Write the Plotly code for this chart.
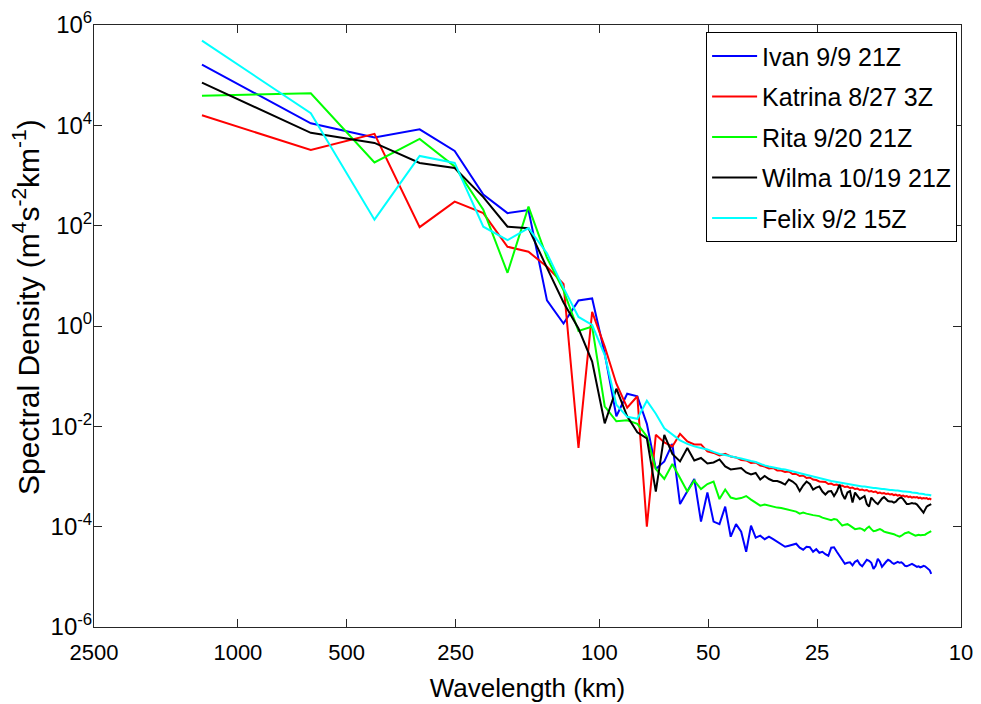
import numpy as np
import plotly.graph_objects as go

# Spectral grid: harmonics of the analysis domain (wavelength in km)
WAVENUMBER = list(range(1, 105))
WAVELENGTH_KM = [1257.0 / k for k in WAVENUMBER]

# log10 of spectral density (m^4 s^-2 km^-1) for each storm
IVAN_LOG10 = [
    5.21, 4.04, 3.76, 3.92, 3.49, 2.62, 2.25, 2.31, 0.51, 0.05,
    0.51, 0.55, -0.55, -1.80, -1.35, -1.40, -1.95, -2.85, -2.70, -2.35,
    -3.55, -3.30, -3.05, -3.90, -3.32, -3.90, -3.95, -3.60, -4.20, -3.95,
    -4.10, -4.50, -3.98, -4.22, -4.18, -4.25, -4.20, -4.25, -4.30, -4.36,
    -4.40, -4.38, -4.36, -4.34, -4.42, -4.46, -4.40, -4.41, -4.50, -4.45,
    -4.52, -4.50, -4.55, -4.58, -4.42, -4.41, -4.50, -4.58, -4.68, -4.74,
    -4.72, -4.71, -4.77, -4.70, -4.67, -4.75, -4.79, -4.72, -4.66, -4.68,
    -4.72, -4.84, -4.78, -4.64, -4.70, -4.80, -4.76, -4.70, -4.66, -4.68,
    -4.72, -4.74, -4.72, -4.70, -4.72, -4.71, -4.74, -4.78, -4.79, -4.77,
    -4.75, -4.74, -4.76, -4.78, -4.80, -4.79, -4.81, -4.80, -4.78, -4.79,
    -4.82, -4.85, -4.87, -4.94,
]
KATRINA_LOG10 = [
    4.20, 3.51, 3.83, 1.97, 2.48, 2.25, 1.58, 1.48, 1.18, 0.84,
    -2.43, 0.28, -0.41, -1.15, -1.63, -1.40, -4.00, -2.17, -2.32, -2.40,
    -2.15, -2.30, -2.36, -2.36, -2.50, -2.53, -2.58, -2.55, -2.60, -2.62,
    -2.67, -2.68, -2.73, -2.72, -2.78, -2.80, -2.84, -2.83, -2.88, -2.88,
    -2.91, -2.90, -2.95, -2.95, -2.99, -2.98, -3.03, -3.02, -3.06, -3.07,
    -3.10, -3.11, -3.11, -3.15, -3.14, -3.17, -3.16, -3.19, -3.18, -3.21,
    -3.20, -3.23, -3.22, -3.25, -3.24, -3.27, -3.26, -3.28, -3.27, -3.30,
    -3.29, -3.31, -3.30, -3.33, -3.32, -3.34, -3.33, -3.35, -3.34, -3.36,
    -3.35, -3.37, -3.36, -3.38, -3.37, -3.39, -3.38, -3.40, -3.39, -3.41,
    -3.40, -3.42, -3.41, -3.42, -3.41, -3.43, -3.42, -3.44, -3.43, -3.44,
    -3.43, -3.45, -3.44, -3.46,
]
RITA_LOG10 = [
    4.59, 4.64, 3.26, 3.73, 3.18, 2.32, 1.06, 2.38, 1.36, 0.71,
    -0.10, -0.01, -1.60, -1.90, -1.88, -1.95, -2.20, -2.85, -3.05, -2.75,
    -3.03, -3.30, -3.08, -3.25, -3.15, -3.10, -3.45, -3.26, -3.42, -3.45,
    -3.43, -3.39, -3.46, -3.52, -3.58, -3.56, -3.58, -3.61, -3.62, -3.63,
    -3.65, -3.66, -3.68, -3.70, -3.74, -3.72, -3.74, -3.76, -3.77, -3.78,
    -3.79, -3.82, -3.84, -3.86, -3.87, -3.85, -3.86, -3.92, -3.98, -3.96,
    -3.95, -3.98, -4.02, -4.05, -4.04, -4.03, -4.05, -4.08, -4.03, -4.00,
    -4.05, -4.09, -4.08, -4.06, -4.05, -4.07, -4.10, -4.11, -4.12, -4.13,
    -4.13, -4.15, -4.17, -4.19, -4.20, -4.18, -4.15, -4.13, -4.12, -4.11,
    -4.13, -4.15, -4.17, -4.18, -4.17, -4.16, -4.17, -4.17, -4.16, -4.16,
    -4.14, -4.12, -4.11, -4.09,
]
WILMA_LOG10 = [
    4.85, 3.85, 3.65, 3.25, 3.15, 2.57, 1.98, 1.95, 1.16, 0.47,
    -0.05, -0.71, -1.94, -1.25, -1.80, -2.12, -2.24, -3.30, -2.17, -2.55,
    -2.70, -2.43, -2.68, -2.63, -2.74, -2.72, -2.66, -2.80, -2.86, -2.84,
    -2.83, -2.92, -2.96, -2.93, -3.06, -2.99, -3.05, -3.09, -3.09, -3.12,
    -3.16, -3.06, -3.10, -3.16, -3.29, -3.18, -3.10, -3.15, -3.26, -3.22,
    -3.20, -3.30, -3.36, -3.30, -3.29, -3.39, -3.30, -3.16, -3.35, -3.45,
    -3.32, -3.29, -3.52, -3.32, -3.38, -3.45, -3.42, -3.39, -3.55, -3.60,
    -3.42, -3.48, -3.52, -3.55, -3.48, -3.44, -3.41, -3.45, -3.49, -3.50,
    -3.50, -3.52, -3.50, -3.46, -3.43, -3.42, -3.45, -3.50, -3.55, -3.55,
    -3.54, -3.53, -3.54, -3.54, -3.56, -3.60, -3.62, -3.68, -3.72, -3.66,
    -3.60, -3.58, -3.56, -3.55,
]
FELIX_LOG10 = [
    5.69, 4.24, 2.12, 3.39, 3.25, 1.98, 1.71, 1.95, 1.45, 0.76,
    0.18, 0.02, -0.58, -1.57, -1.81, -1.85, -1.49, -1.75, -2.04, -2.16,
    -2.28, -2.35, -2.40, -2.43, -2.46, -2.51, -2.55, -2.57, -2.60, -2.62,
    -2.64, -2.67, -2.69, -2.71, -2.75, -2.78, -2.80, -2.82, -2.84, -2.85,
    -2.86, -2.88, -2.90, -2.92, -2.93, -2.95, -2.96, -2.98, -3.00, -3.02,
    -3.04, -3.05, -3.07, -3.08, -3.09, -3.10, -3.11, -3.13, -3.14, -3.15,
    -3.15, -3.16, -3.17, -3.18, -3.18, -3.19, -3.20, -3.20, -3.21, -3.22,
    -3.22, -3.23, -3.23, -3.24, -3.24, -3.25, -3.25, -3.26, -3.26, -3.27,
    -3.27, -3.28, -3.28, -3.28, -3.29, -3.29, -3.30, -3.30, -3.30, -3.31,
    -3.31, -3.32, -3.32, -3.33, -3.33, -3.34, -3.34, -3.35, -3.35, -3.36,
    -3.36, -3.37, -3.37, -3.38,
]

SERIES_NAMES = ["Ivan 9/9 21Z", "Katrina 8/27 3Z", "Rita 9/20 21Z",
                "Wilma 10/19 21Z", "Felix 9/2 15Z"]
SERIES_LOG10 = [IVAN_LOG10, KATRINA_LOG10, RITA_LOG10, WILMA_LOG10, FELIX_LOG10]
SERIES_COLORS = ["#0000ff", "#ff0000", "#00ff00", "#000000", "#00ffff"]

X_TICKS = [2500, 1000, 500, 250, 100, 50, 25, 10]
Y_TICK_EXPONENTS = [-6, -4, -2, 0, 2, 4, 6]

X_TITLE = "Wavelength (km)"
Y_TITLE = "Spectral Density (m<sup>4</sup>s<sup>-2</sup>km<sup>-1</sup>)"

FONT = "Liberation Sans, Arial, Helvetica, sans-serif"

fig = go.Figure()
for name, logs, color in zip(SERIES_NAMES, SERIES_LOG10, SERIES_COLORS):
    fig.add_trace(go.Scatter(
        x=WAVELENGTH_KM,
        y=np.power(10.0, np.array(logs)),
        mode="lines",
        name=name,
        legendgroup=name,
        line=dict(color=color, width=2),
    ))

axis_common = dict(
    showline=True, linecolor="#262626", linewidth=1, mirror="ticks",
    ticks="inside", ticklen=8, tickcolor="#262626", tickwidth=1,
    showgrid=False, zeroline=False, automargin=False,
)

fig.update_xaxes(
    type="log",
    range=[np.log10(2500), np.log10(10)],
    tickmode="array",
    tickvals=X_TICKS,
    ticktext=[str(v) for v in X_TICKS],
    tickfont=dict(family=FONT, size=22, color="#000000"),
    ticklabelstandoff=6,
    title=dict(text=X_TITLE, font=dict(family=FONT, size=26, color="#000000"),
               standoff=14),
    **axis_common,
)
fig.update_yaxes(
    type="log",
    range=[-6, 6],
    tickmode="array",
    tickvals=[10.0 ** e for e in Y_TICK_EXPONENTS],
    ticktext=[f"10<sup>{e}</sup>" for e in Y_TICK_EXPONENTS],
    tickfont=dict(family=FONT, size=24, color="#000000"),
    ticklabelstandoff=-4,
    **axis_common,
)

# Vertical axis label placed as rotated text left of the tick labels
fig.add_annotation(
    text=Y_TITLE, textangle=-90,
    xref="paper", yref="paper", x=-0.0784, y=0.5316,
    xanchor="center", yanchor="middle", showarrow=False,
    font=dict(family=FONT, size=30, color="#000000"),
)

fig.update_layout(
    width=981, height=704,
    margin=dict(l=94, r=20, t=25, b=77),
    paper_bgcolor="#ffffff",
    plot_bgcolor="#ffffff",
    showlegend=True,
    legend=dict(
        x=0.9955, y=0.988, xanchor="right", yanchor="top",
        bgcolor="#ffffff", bordercolor="#000000", borderwidth=1,
        font=dict(family=FONT, size=25, color="#000000"),
        tracegroupgap=5,
        itemwidth=45,
        traceorder="grouped",
    ),
)

fig.write_html("out.html")
